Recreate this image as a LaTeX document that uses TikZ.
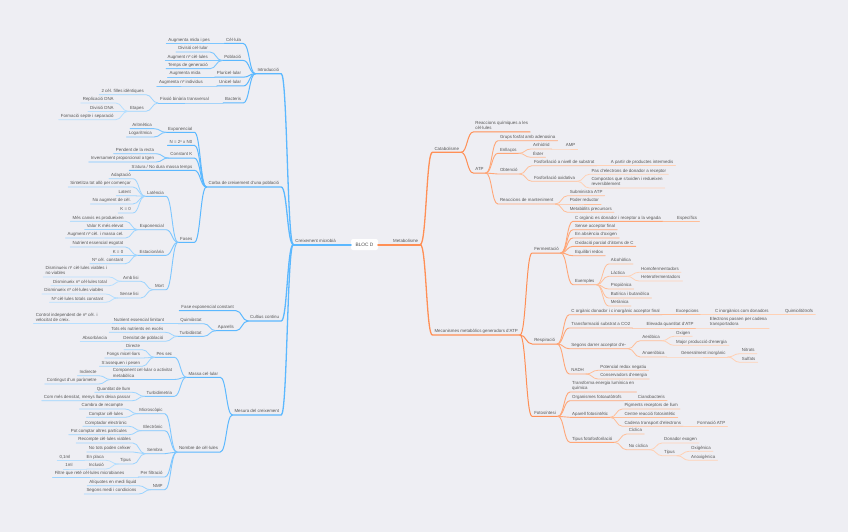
\documentclass[tikz,border=0pt]{standalone}
\usepackage{fontspec}
\setmainfont{Liberation Sans}
\usetikzlibrary{calc}
\definecolor{bgc}{HTML}{EEEEF3}
\definecolor{txc}{HTML}{555555}
\definecolor{bA}{HTML}{5BB8FF}
\definecolor{bB}{HTML}{7CC6FF}
\definecolor{bC}{HTML}{9CD4FF}
\definecolor{bD}{HTML}{B6DFFF}
\definecolor{oA}{HTML}{FF8F55}
\definecolor{oB}{HTML}{FFA677}
\definecolor{oC}{HTML}{FFBE98}
\definecolor{oD}{HTML}{FFD1B5}
\newcommand\ms{\rule[-1.2pt]{0pt}{4.6pt}}
\newcommand\LN[5]{%
  \path let \p1=(#2.south west) in node[tx,anchor=south east] (#1) at (\x1-12pt,-#3pt) {#5\ms};
  \draw[#4] (#2.south west) .. controls +(-6pt,0pt) and +(6pt,0pt) .. (#1.south east) -- (#1.south west);
}
\newcommand\RN[5]{%
  \path let \p1=(#2.south east) in node[tx,anchor=south west] (#1) at (\x1+12pt,-#3pt) {#5\ms};
  \draw[#4] (#2.south east) .. controls +(6pt,0pt) and +(-6pt,0pt) .. (#1.south west) -- (#1.south east);
}
\begin{document}
\begin{tikzpicture}[
  x=1pt,y=-1pt,
  tx/.style={font=\fontsize{4.4}{5.4}\selectfont, text=txc, inner xsep=2pt, inner ysep=0.8pt, align=left},
  ln/.style={line cap=round, line join=round},
  b1/.style={ln,draw=bA,line width=2pt},
  b2/.style={ln,draw=bA,line width=1.3pt},
  b3/.style={ln,draw=bA,line width=1pt},
  b4/.style={ln,draw=bB,line width=0.9pt},
  b5/.style={ln,draw=bC,line width=0.8pt},
  b6/.style={ln,draw=bD,line width=0.8pt},
  o1/.style={ln,draw=oA,line width=2pt},
  o2/.style={ln,draw=oA,line width=1.3pt},
  o3/.style={ln,draw=oA,line width=1pt},
  o4/.style={ln,draw=oB,line width=0.9pt},
  o5/.style={ln,draw=oC,line width=0.8pt},
  o6/.style={ln,draw=oD,line width=0.8pt},
  rootbox/.style={fill=white, rounded corners=2pt, minimum width=27pt, minimum height=11pt, inner sep=0pt, font=\fontsize{4.8}{5.8}\selectfont, text=black!70}
]
\useasboundingbox (0pt,0pt) rectangle (848pt,-532pt);
\fill[bgc] (0pt,0pt) rectangle (848pt,-532pt);

% root and level 1
\node[rootbox] (root) at (364.5pt,-244.5pt) {BLOC D};
\node[tx,anchor=south east] (cm) at (338pt,-244.5pt) {Creixement microbià\ms};
\draw[b1] (root.west) -- (cm.south east) -- (cm.south west);
\node[tx,anchor=south west] (mb) at (391pt,-244.5pt) {Metabolisme\ms};
\draw[o1] (root.east) -- (mb.south west) -- (mb.south east);

% ---------- LEFT ----------
\LN{intro}{cm}{73.7}{b2}{Introducció}
\LN{corba}{cm}{187}{b2}{Corba de creixement d'una població}
\LN{cult}{cm}{321}{b2}{Cultius continu}
\LN{mesura}{cm}{415}{b2}{Mesura del creixement}

\LN{cel}{intro}{43.5}{b3}{Cèl·lula}
\LN{pob}{intro}{60.5}{b3}{Població}
\LN{pluri}{intro}{77.2}{b3}{Pluricel·lular}
\LN{uni}{intro}{86}{b3}{Unicel·lular}
\LN{bact}{intro}{103}{b3}{Bacteris}
\LN{a1}{cel}{43.5}{b4}{Augmenta mida i pes}
\LN{a2}{pob}{52}{b4}{Divisió cel·lular}
\LN{a3}{pob}{60.5}{b4}{Augment nº cèl·lules}
\LN{a4}{pob}{68.7}{b4}{Temps de generació}
\LN{a5}{pluri}{77.2}{b4}{Augmenta mida}
\LN{a6}{uni}{86}{b4}{Augmenta nº individus}
\LN{fis}{bact}{103}{b4}{Fissió binària transversal}
\LN{a7}{fis}{94.7}{b5}{2 cèl. filles idèntiques}
\LN{etap}{fis}{111.3}{b5}{Etapes}
\LN{a8}{etap}{103}{b6}{Replicació DNA}
\LN{a9}{etap}{111.3}{b6}{Divisió DNA}
\LN{a10}{etap}{119.7}{b6}{Formació septe i separació}

\LN{exp1}{corba}{132.3}{b3}{Exponencial}
\LN{nf}{corba}{145.3}{b3}{N = 2ⁿ x N0}
\LN{ck}{corba}{158}{b3}{Constant K}
\LN{sat}{corba}{170.3}{b3}{S'atura / No dura massa temps}
\LN{fases}{corba}{242.3}{b3}{Fases}
\LN{c1}{exp1}{128.7}{b4}{Aritmètica}
\LN{c2}{exp1}{137}{b4}{Logarítmica}
\LN{c3}{ck}{153.7}{b4}{Pendent de la recta}
\LN{c4}{ck}{162}{b4}{Inversament proporcional a tgen}
\LN{lat}{fases}{196.3}{b4}{Latència}
\LN{exp2}{fases}{229.7}{b4}{Exponencial}
\LN{est}{fases}{255.3}{b4}{Estacionària}
\LN{mort}{fases}{289.7}{b4}{Mort}
\LN{d1}{lat}{178.7}{b5}{Adaptació}
\LN{d2}{lat}{187}{b5}{Sintetitza tot allò per començar}
\LN{d3}{lat}{195.7}{b5}{Latent}
\LN{d4}{lat}{204}{b5}{No augment de cèl.}
\LN{d5}{lat}{213}{b5}{K = 0}
\LN{d6}{exp2}{221.3}{b5}{Més canvis es produeixen}
\LN{d7}{exp2}{229.7}{b5}{Valor K més elevat}
\LN{d8}{exp2}{238}{b5}{Augment nº cèl. i massa cel.}
\LN{d9}{est}{247}{b5}{Nutrient essencial esgotat}
\LN{d10}{est}{255.3}{b5}{K = 0}
\LN{d11}{est}{263.7}{b5}{Nº cèl. constant}
\LN{amb}{mort}{281.3}{b5}{Amb lisi}
\LN{sense}{mort}{298}{b5}{Sense lisi}
\LN{e1}{amb}{277}{b6}{Disminueix nº cèl·lules viables i\\no viables}
\LN{e2}{amb}{285.7}{b6}{Disminueix nº cèl·lules total}
\LN{e3}{sense}{294}{b6}{Disminueix nº cèl·lules viables}
\LN{e4}{sense}{302.3}{b6}{Nº cèl·lules totals constant}

\LN{fe}{cult}{310.7}{b3}{Fase exponencial constant}
\LN{apar}{cult}{330.7}{b3}{Aparells}
\LN{quim}{apar}{323.7}{b4}{Quimiòstat}
\LN{turb}{apar}{336.3}{b4}{Turbidòstat}
\LN{f1}{quim}{323.7}{b5}{Nutrient essencial limitant}
\LN{f2}{f1}{323.7}{b6}{Control independent de nº cèl. i\\velocitat de creix.}
\LN{f3}{turb}{332.3}{b5}{Tots els nutrients en excés}
\LN{f4}{turb}{341.3}{b5}{Densitat de població}
\LN{f5}{f4}{341.3}{b6}{Absorbància}

\LN{massa}{mesura}{377.3}{b3}{Massa cel·lular}
\LN{nomb}{mesura}{452}{b3}{Nombre de cèl·lules}
\LN{pes}{massa}{357.3}{b4}{Pes sec}
\LN{comp}{massa}{379.5}{b4}{Component cel·lular o activitat\\metabòlica}
\LN{turbi}{massa}{396.3}{b4}{Turbidimetria}
\LN{g1}{pes}{349.7}{b5}{Directe}
\LN{g2}{pes}{358}{b5}{Fongs micel·liars}
\LN{g3}{pes}{366.3}{b5}{S'assequen i pesen}
\LN{g4}{comp}{375.7}{b5}{Indirecte}
\LN{g5}{comp}{384}{b5}{Contingut d'un paràmetre}
\LN{g6}{turbi}{392.3}{b5}{Quantitat de llum}
\LN{g7}{turbi}{400.7}{b5}{Com més densitat, menys llum deixa passar}
\LN{micro}{nomb}{413.7}{b4}{Microscòpic}
\LN{elec}{nomb}{430.7}{b4}{Electrònic}
\LN{sem}{nomb}{453.7}{b4}{Sembra}
\LN{filt}{nomb}{477}{b4}{Per filtració}
\LN{nmp}{nomb}{489.7}{b4}{NMP}
\LN{h1}{micro}{409}{b5}{Cambra de recompte}
\LN{h2}{micro}{417.3}{b5}{Comptar cèl·lules}
\LN{h3}{elec}{426.3}{b5}{Comptador electrònic}
\LN{h4}{elec}{434.7}{b5}{Pot comptar altres partícules}
\LN{h5}{sem}{443}{b5}{Recompte cèl·lules viables}
\LN{h6}{sem}{452}{b5}{No tots poden créixer}
\LN{tip}{sem}{464}{b5}{Tipus}
\LN{h7}{tip}{460.3}{b6}{En placa}
\LN{h8}{tip}{469}{b6}{Inclusió}
\LN{h9}{h7}{460.3}{b6}{0,1ml}
\LN{h10}{h8}{469}{b6}{1ml}
\LN{h11}{filt}{477}{b5}{Filtre que reté cèl·lules microbianes}
\LN{h12}{nmp}{485.7}{b5}{Alíquotes en medi líquid}
\LN{h13}{nmp}{494}{b5}{Segons medi i condicions}

% ---------- RIGHT ----------
\RN{catab}{mb}{152.3}{o2}{Catabolisme}
\RN{mec}{mb}{335}{o2}{Mecanismes metabòlics generadors d'ATP}
\RN{reac}{catab}{132}{o3}{Reaccions químiques a les\\cèl·lules}
\RN{atp}{catab}{173}{o3}{ATP}
\RN{p1}{atp}{140.7}{o4}{Grups fosfat amb adenosina}
\RN{enl}{atp}{153.3}{o4}{Enllaços}
\RN{obt}{atp}{174}{o4}{Obtenció}
\RN{rman}{atp}{204}{o4}{Reaccions de manteniment}
\RN{anh}{enl}{149}{o5}{Anhídrid}
\RN{est2}{enl}{157.3}{o5}{Èster}
\RN{amp}{anh}{149}{o6}{AMP}
\RN{fsub}{obt}{165.7}{o5}{Fosforilació a nivell de substrat}
\RN{foxi}{obt}{181.3}{o5}{Fosforilació oxidativa}
\RN{p2}{fsub}{165.7}{o6}{A partir de productes intermedis}
\RN{p3}{foxi}{174.3}{o6}{Pas d'electrons de donador a receptor}
\RN{p4}{foxi}{188}{o6}{Compostos que s'oxiden i redueixen\\reversiblement}
\RN{p5}{rman}{195.7}{o5}{Subministra ATP}
\RN{p6}{rman}{204}{o5}{Poder reductor}
\RN{p7}{rman}{212.3}{o5}{Metabòlits precursors}

\RN{ferm}{mec}{253}{o3}{Fermentació}
\RN{resp}{mec}{344}{o3}{Respiració}
\RN{foto}{mec}{416.3}{o3}{Fotosíntesi}
\RN{q1}{ferm}{221.3}{o4}{C orgànic es donador i receptor a la vegada}
\RN{q1b}{q1}{221.3}{o5}{Específics}
\RN{q2}{ferm}{229.7}{o4}{Sense acceptor final}
\RN{q3}{ferm}{238}{o4}{En absència d'oxigen}
\RN{q4}{ferm}{246.3}{o4}{Oxidació parcial d'àtoms de C}
\RN{q5}{ferm}{255.7}{o4}{Equilibri redox}
\RN{exem}{ferm}{284.7}{o4}{Exemples}
\RN{r1}{exem}{264}{o5}{Alcohòlica}
\RN{lact}{exem}{276.3}{o5}{Làctica}
\RN{r2}{exem}{289}{o5}{Propiònica}
\RN{r3}{exem}{298}{o5}{Butírica i butanòlica}
\RN{r4}{exem}{306}{o5}{Metànica}
\RN{r5}{lact}{272.3}{o6}{Homofermentadors}
\RN{r6}{lact}{281}{o6}{Heterofermentadors}

\RN{s1}{resp}{314.7}{o4}{C orgànic donador i c inorgànic acceptor final}
\RN{s1a}{s1}{314.7}{o5}{Excepcions}
\RN{s1b}{s1a}{314.7}{o6}{C inorgànics com donadors}
\RN{s1c}{s1b}{314.7}{o6}{Quimiolitòtrofs}
\RN{s2}{resp}{328}{o4}{Transformació substrat a CO2}
\RN{s2a}{s2}{328}{o5}{Elevada quantitat d'ATP}
\RN{s2b}{s2a}{328}{o6}{Electrons passen per cadena\\transportadora}
\RN{s3}{resp}{348.7}{o4}{Segons darrer acceptor d'e-}
\RN{aer}{s3}{340.7}{o5}{Aeròbica}
\RN{anaer}{s3}{357}{o5}{Anaeròbica}
\RN{s3a}{aer}{336.3}{o6}{Oxigen}
\RN{s3b}{aer}{345.3}{o6}{Major producció d'energia}
\RN{gen}{anaer}{357}{o6}{Generalment inorgànic}
\RN{s3c}{gen}{353.7}{o6}{Nitrats}
\RN{s3d}{gen}{362.3}{o6}{Sulfats}
\RN{nadh}{resp}{374}{o4}{NADH}
\RN{s4a}{nadh}{370.3}{o5}{Potencial redox negatiu}
\RN{s4b}{nadh}{379}{o5}{Conservadors d'energia}

\RN{t1}{foto}{392}{o4}{Transforma energia lumínica en\\química}
\RN{t2}{foto}{400.7}{o4}{Organismes fotoautòtrofs}
\RN{t2a}{t2}{400.7}{o5}{Cianobacteris}
\RN{apf}{foto}{417.3}{o4}{Aparell fotosintètic}
\RN{t3}{apf}{409}{o5}{Pigments receptors de llum}
\RN{t4}{apf}{417.3}{o5}{Centre reacció fotosintètic}
\RN{cad}{apf}{426.3}{o5}{Cadena transport d'electrons}
\RN{t5}{cad}{426.3}{o6}{Formació ATP}
\RN{tf}{foto}{442.3}{o4}{Tipus fotofosforilació}
\RN{cic}{tf}{434}{o5}{Cíclica}
\RN{noc}{tf}{449.7}{o5}{No cíclica}
\RN{t6}{noc}{443}{o6}{Donador exogen}
\RN{tip2}{noc}{455.7}{o6}{Tipus}
\RN{t7}{tip2}{451.3}{o6}{Oxigènica}
\RN{t8}{tip2}{460.3}{o6}{Anoxigènica}
\end{tikzpicture}
\end{document}
